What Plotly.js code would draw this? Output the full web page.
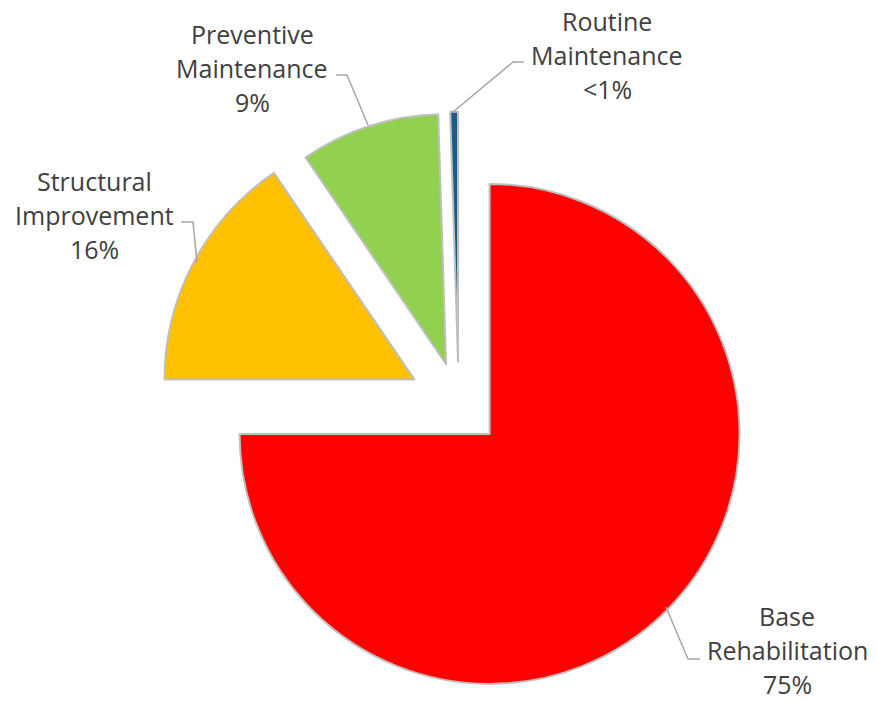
<!DOCTYPE html>
<html>
<head>
<meta charset="utf-8">
<script src="https://cdn.plot.ly/plotly-3.0.1.min.js"></script>
<style>html,body{margin:0;padding:0;background:#fff;}#chart{width:877px;height:703px;}</style>
</head>
<body>
<div id="chart"></div>
<script>
var categories = ["Base Rehabilitation", "Structural Improvement", "Preventive Maintenance", "Routine Maintenance"];
var values = [75, 15.5, 9.0, 0.5];
var percentLabels = ["75%", "16%", "9%", "<1%"];
var labelLines = [["Base", "Rehabilitation"], ["Structural", "Improvement"], ["Preventive", "Maintenance"], ["Routine", "Maintenance"]];
var colors = ["#FF0000", "#FFC000", "#92D050", "#1F5C85"];
var pulls = [0.175, 0.2, 0.163, 0.165];

// label placement (pixels from top-left, centre of the middle line) and leader-line paths — styling only
var W = 877, H = 703;
var lineGap = 34;
var labelPos = [[787, 650], [94, 215], [252, 68], [607, 55]];
var leaderPaths = [
  [[666, 607], [688, 659], [700, 659]],
  [[181, 222], [193, 222], [197, 263]],
  [[336, 75], [347, 75], [368, 125]],
  [[453, 112], [513, 62], [524, 62]]
];

function px(x) { return x / W; }
function py(y) { return 1 - y / H; }

var trace = {
  type: "pie",
  labels: categories,
  values: values,
  textinfo: "none",
  hoverinfo: "label+percent",
  sort: false,
  direction: "clockwise",
  rotation: 0,
  pull: pulls,
  marker: { colors: colors, line: { color: "#BFBFBF", width: 2 } },
  automargin: false,
  domain: { x: [0.123, 0.923], y: [0, 0.8535] }
};

var annotations = [];
categories.forEach(function (c, i) {
  var lines = labelLines[i].concat([percentLabels[i]]);
  lines.forEach(function (t, k) {
    annotations.push({
      xref: "paper", yref: "paper",
      x: px(labelPos[i][0]), y: py(labelPos[i][1] + (k - 1) * lineGap),
      xanchor: "center", yanchor: "middle",
      showarrow: false,
      text: t,
      font: { family: "Open Sans, Liberation Sans, sans-serif", size: 25, color: "#404040" }
    });
  });
});

var shapes = leaderPaths.map(function (p) {
  var d = p.map(function (pt, k) { return (k ? "L" : "M") + px(pt[0]) + "," + py(pt[1]); }).join(" ");
  return { type: "path", xref: "paper", yref: "paper", path: d, line: { color: "#A6A6A6", width: 1.5 } };
});

var layout = {
  width: W, height: H,
  margin: { l: 0, r: 0, t: 0, b: 0 },
  showlegend: false,
  paper_bgcolor: "#FFFFFF",
  annotations: annotations,
  shapes: shapes
};

Plotly.newPlot("chart", [trace], layout, { displayModeBar: false, staticPlot: true });
</script>
</body>
</html>
